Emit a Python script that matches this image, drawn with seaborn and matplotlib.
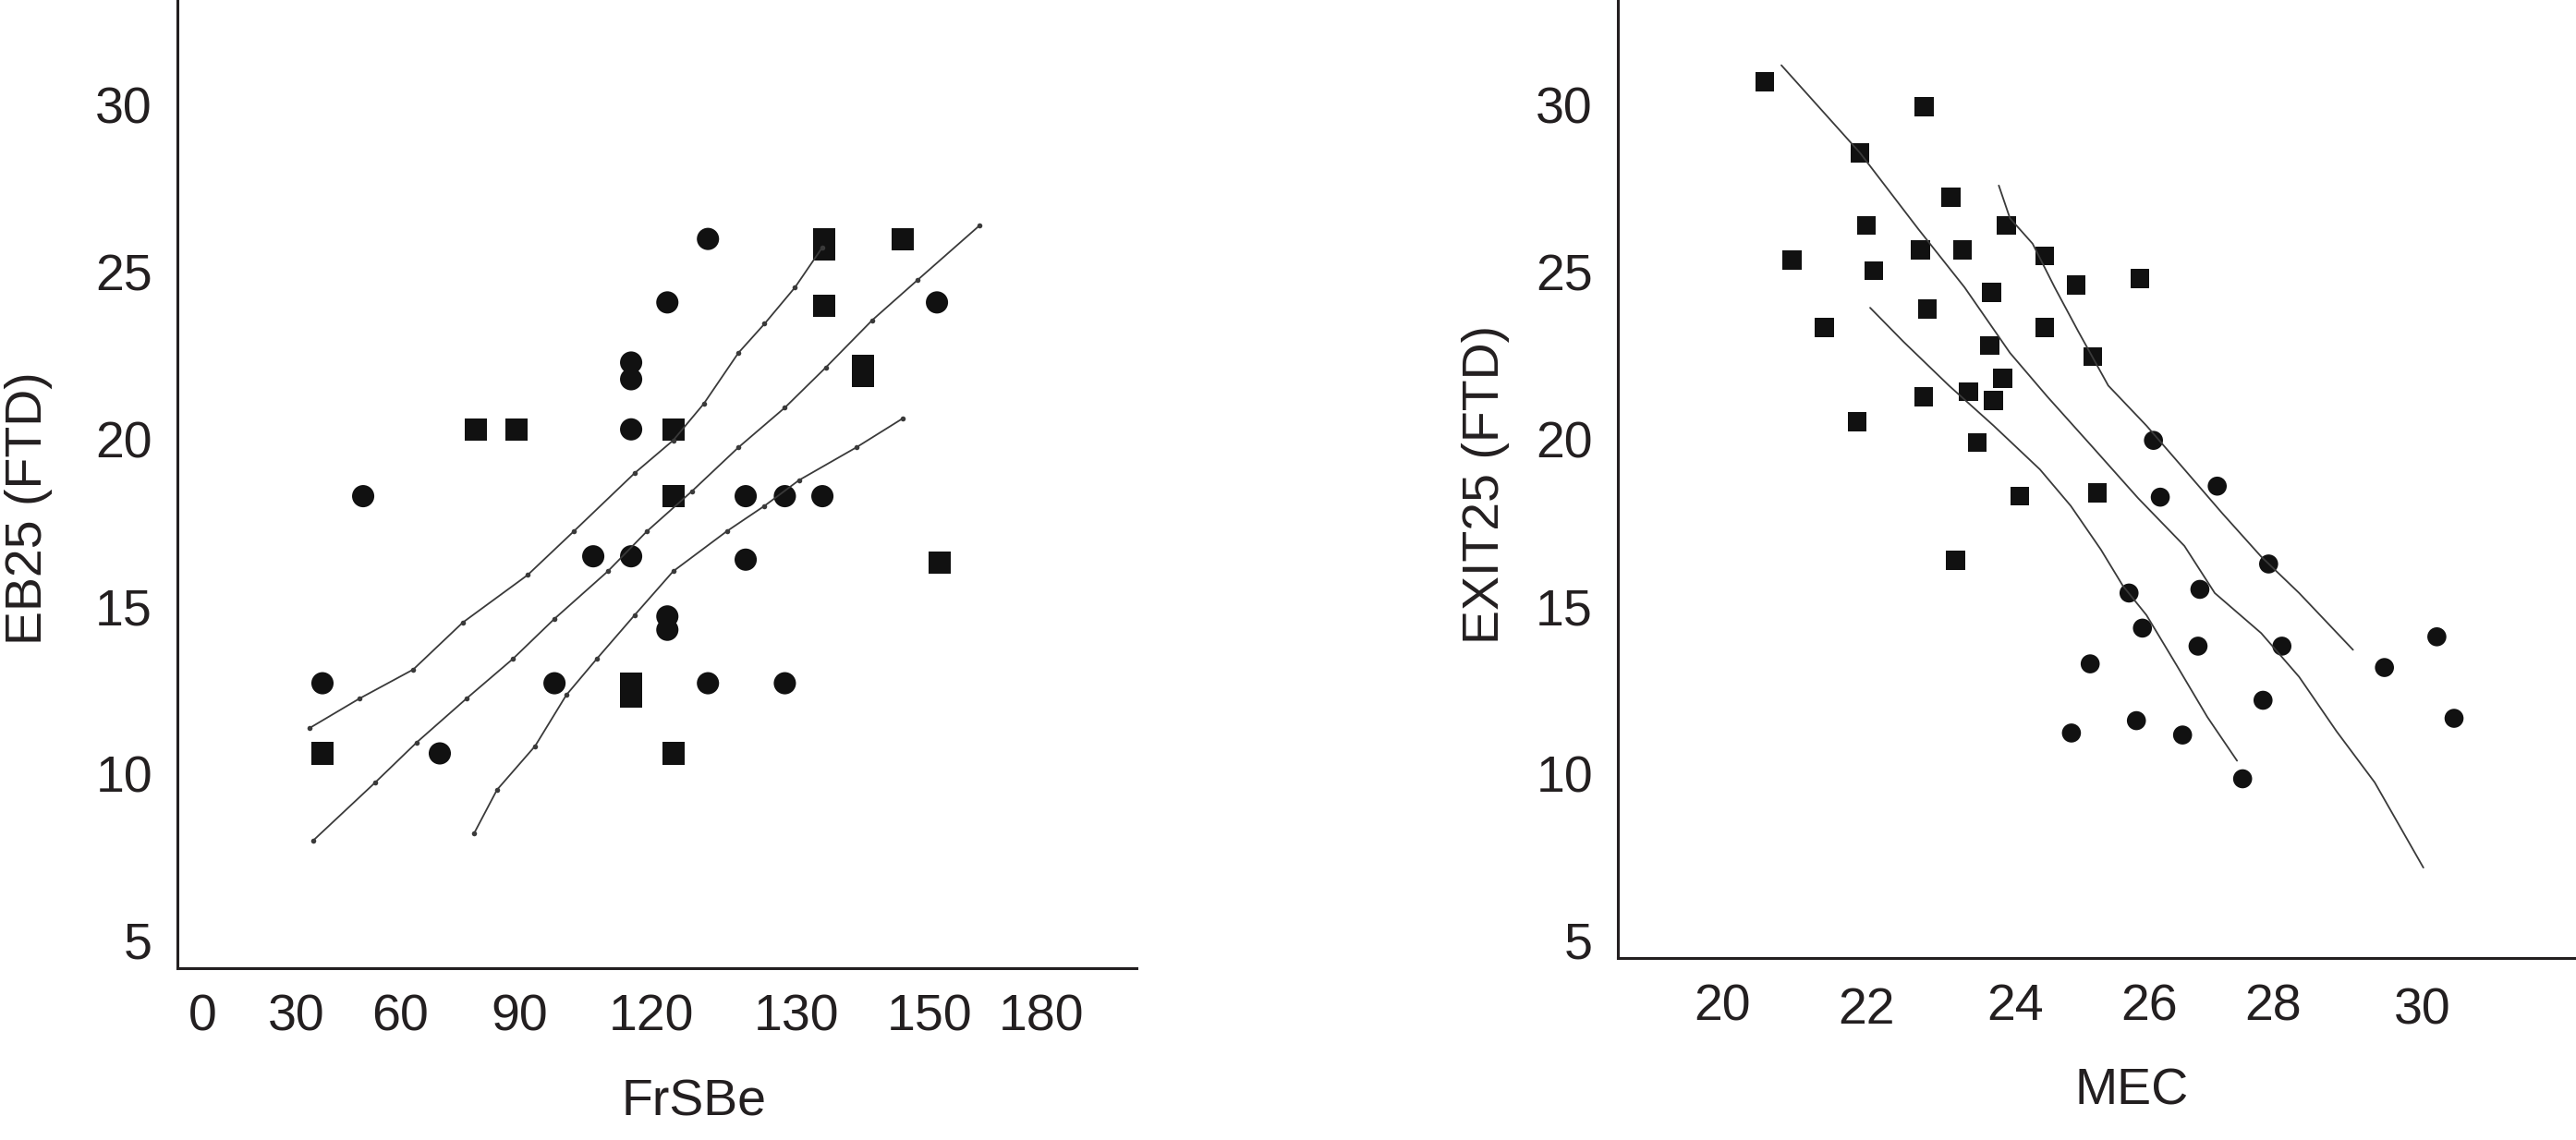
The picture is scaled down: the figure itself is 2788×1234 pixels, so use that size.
# ============================================================
# EB25 vs FrSBe  /  EXIT25 vs MEC  - two scatter panels with fit lines
# ============================================================

import numpy as np
import pandas as pd
import matplotlib
matplotlib.use("Agg")
import matplotlib.pyplot as plt
from matplotlib.transforms import ScaledTranslation
import seaborn as sns

# ============================================================
# Data - left panel (FrSBe vs EB25 (FTD))
# ============================================================

frsbe_circle_x = [37.5, 49.3, 70.0, 98.0, 106.8, 115.4, 115.4, 115.4, 115.4,
                  121.1, 121.1, 121.1, 123.9, 123.9, 126.5, 126.5, 129.2,
                  129.2, 133.9, 152.0]
frsbe_circle_y = [12.7, 18.3, 10.6, 12.7, 16.5, 16.5, 21.8, 22.3, 20.3,
                  24.1, 14.3, 14.7, 26.0, 12.7, 18.3, 16.4, 18.3,
                  12.7, 18.3, 24.1]

frsbe_square_x = [37.5, 79.1, 89.3, 115.4, 115.4, 121.5, 121.5, 121.5,
                  134.2, 134.2, 134.2, 140.0, 140.0, 146.0, 152.7]
frsbe_square_y = [10.6, 20.3, 20.3, 12.3, 12.7, 20.3, 18.3, 10.6,
                  25.7, 26.0, 24.0, 21.9, 22.2, 26.0, 16.3]

# fitted line and its two bands
frsbe_upper_x = [33.8, 48.2, 63.3, 75.8, 91.9, 102.4, 116.2, 121.5, 123.6,
                 126.0, 127.8, 129.9, 133.9]
frsbe_upper_y = [11.36, 12.24, 13.11, 14.52, 15.94, 17.25, 18.99, 19.97,
                 21.06, 22.59, 23.46, 24.55, 25.75]

frsbe_mid_x = [34.8, 52.8, 64.2, 76.7, 88.4, 98.0, 110.1, 119.0, 122.8,
               126.0, 129.2, 134.4, 141.4, 148.2, 163.4]
frsbe_mid_y = [7.99, 9.73, 10.93, 12.24, 13.43, 14.63, 16.05, 17.25, 18.45,
               19.76, 20.95, 22.15, 23.57, 24.77, 26.40]

frsbe_lower_x = [78.6, 84.4, 93.6, 100.7, 107.6, 116.2, 121.5, 125.2, 127.8,
                 130.4, 139.0, 146.0]
frsbe_lower_y = [8.20, 9.51, 10.82, 12.35, 13.43, 14.74, 16.05, 17.25, 18.01,
                 18.78, 19.76, 20.63]

frsbe_ticks = [0, 30, 60, 90, 120, 130, 150, 180]
eb25_ticks = [5, 10, 15, 20, 25, 30]

# ============================================================
# Data - right panel (MEC vs EXIT25 (FTD))
# ============================================================

mec_square_x = [20.59, 20.97, 21.42, 21.87, 21.91, 22.00, 22.10, 22.73, 22.78,
                22.82, 22.77, 23.14, 23.29, 23.37, 23.20, 23.49, 23.68, 23.66,
                23.71, 23.83, 23.88, 24.07, 24.44, 24.44, 24.91, 25.16, 25.23,
                25.86]
mec_square_y = [30.70, 25.36, 23.35, 20.52, 28.58, 26.40, 25.05, 25.68, 29.96,
                23.90, 21.28, 27.25, 25.68, 21.43, 16.38, 19.91, 24.40, 22.81,
                21.17, 21.83, 26.40, 18.30, 25.49, 23.35, 24.62, 22.48, 18.40,
                24.81]

mec_circle_x = [26.07, 26.18, 27.10, 27.93, 25.70, 25.90, 26.82, 26.79, 28.12,
                25.12, 24.84, 25.81, 26.54, 27.84, 27.51, 29.49, 30.19, 30.42]
mec_circle_y = [19.97, 18.27, 18.60, 16.27, 15.40, 14.35, 15.51, 13.81, 13.81,
                13.28, 11.21, 11.58, 11.15, 12.19, 9.84, 13.17, 14.09, 11.65]

mec_line_a_x = [20.82, 21.91, 22.70, 23.32, 23.93, 24.48, 25.16, 25.84, 26.57,
                27.06, 27.81, 28.35, 28.85, 29.36, 30.01]
mec_line_a_y = [31.20, 28.58, 26.29, 24.55, 22.59, 21.28, 19.76, 18.23, 16.81,
                15.40, 14.20, 12.89, 11.26, 9.73, 7.18]

mec_line_b_x = [23.78, 23.93, 24.26, 24.59, 24.94, 25.39, 25.96, 26.57, 27.18,
                27.81, 28.35, 29.07]
mec_line_b_y = [27.60, 26.62, 25.86, 24.55, 23.24, 21.61, 20.41, 19.10, 17.79,
                16.49, 15.40, 13.70]

mec_line_c_x = [22.05, 22.50, 23.11, 23.71, 24.37, 24.83, 25.28, 25.61, 25.96,
                26.45, 26.94, 27.42]
mec_line_c_y = [23.94, 22.92, 21.61, 20.41, 19.10, 18.01, 16.70, 15.61, 14.74,
                13.22, 11.69, 10.38]

mec_ticks = [20, 22, 24, 26, 28, 30]
exit25_ticks = [5, 10, 15, 20, 25, 30]

# ============================================================
# Layout (pixel positions in the 2788 x 1234 image)
# ============================================================

W, H = 2788, 1234
frsbe_tick_px = [219, 321, 433, 562, 705, 862, 1006, 1127]
mec_tick_px = [1864, 2020, 2181, 2326, 2460, 2622]

INK = "#231f20"


def piecewise(vals, pos):
    # the printed x axes are not evenly spaced: map tick values onto
    # their drawn positions, linear in between
    vals = np.asarray(vals, float)
    pos = np.asarray(pos, float)
    s_lo = (pos[1] - pos[0]) / (vals[1] - vals[0])
    s_hi = (pos[-1] - pos[-2]) / (vals[-1] - vals[-2])

    def fwd(v):
        v = np.asarray(v, float)
        out = np.interp(v, vals, pos)
        out = np.where(v < vals[0], pos[0] + (v - vals[0]) * s_lo, out)
        out = np.where(v > vals[-1], pos[-1] + (v - vals[-1]) * s_hi, out)
        return out

    def inv(p):
        p = np.asarray(p, float)
        out = np.interp(p, pos, vals)
        out = np.where(p < pos[0], vals[0] + (p - pos[0]) / s_lo, out)
        out = np.where(p > pos[-1], vals[-1] + (p - pos[-1]) / s_hi, out)
        return out

    return fwd, inv


sns.set_theme(style="white")
plt.rcParams["font.family"] = ["Liberation Sans", "DejaVu Sans"]

fig = plt.figure(figsize=(W / 100, H / 100), dpi=100)
fig.patch.set_facecolor("white")

# axes boxes: (left px, right px, bottom px)
ax1 = fig.add_axes([192 / W, 1 - 1048 / H, (1230 - 192) / W, 1048 / H])
ax2 = fig.add_axes([1751 / W, 1 - 1037 / H, (2788 - 1751) / W, 1037 / H])

PX_PER_UNIT = 36.16  # y scale, same for both panels

# ============================================================
# Left panel
# ============================================================

left_pts = pd.DataFrame({
    "x": frsbe_circle_x + frsbe_square_x,
    "y": frsbe_circle_y + frsbe_square_y,
    "shape": ["circle"] * len(frsbe_circle_x) + ["square"] * len(frsbe_square_x),
})

f1, i1 = piecewise(frsbe_ticks, frsbe_tick_px)
ax1.set_xscale("function", functions=(f1, i1))

for lx, ly in [(frsbe_upper_x, frsbe_upper_y),
               (frsbe_mid_x, frsbe_mid_y),
               (frsbe_lower_x, frsbe_lower_y)]:
    sns.lineplot(x=lx, y=ly, sort=False, estimator=None, ax=ax1,
                 color="#3a3a3a", linewidth=1.3, marker="o",
                 markersize=4, markeredgewidth=0)

sns.scatterplot(data=left_pts, x="x", y="y", style="shape",
                markers={"circle": "o", "square": "s"},
                color="#111111", s=300, linewidth=0, legend=False, ax=ax1)

ax1.set_xlim(float(i1(192)), float(i1(1230)))
ax1.set_ylim(5 - (1048 - 1018) / PX_PER_UNIT, 30 + 114 / PX_PER_UNIT)
ax1.set_xticks(frsbe_ticks)
ax1.set_xticklabels([str(t) for t in frsbe_ticks])
ax1.set_yticks(eb25_ticks)

ax1.set_xlabel("FrSBe", fontsize=40, color=INK, va="baseline")
ax1.xaxis.set_label_coords((751 - 192) / 1038, (1048 - 1207) / 1048)
ax1.set_ylabel("EB25 (FTD)", fontsize=40, color=INK, va="center")
ax1.yaxis.set_label_coords((31 - 192) / 1038, (1048 - 550) / 1048)

# ============================================================
# Right panel
# ============================================================

right_pts = pd.DataFrame({
    "x": mec_square_x + mec_circle_x,
    "y": mec_square_y + mec_circle_y,
    "shape": ["square"] * len(mec_square_x) + ["circle"] * len(mec_circle_x),
})

f2, i2 = piecewise(mec_ticks, mec_tick_px)
ax2.set_xscale("function", functions=(f2, i2))

for lx, ly in [(mec_line_a_x, mec_line_a_y),
               (mec_line_b_x, mec_line_b_y),
               (mec_line_c_x, mec_line_c_y)]:
    sns.lineplot(x=lx, y=ly, sort=False, estimator=None, ax=ax2,
                 color="#3a3a3a", linewidth=1.3)

sns.scatterplot(data=right_pts, x="x", y="y", style="shape",
                markers={"circle": "o", "square": "s"},
                color="#111111", s=220, linewidth=0, legend=False, ax=ax2)

ax2.set_xlim(float(i2(1751)), float(i2(2788)))
ax2.set_ylim(5 - (1037 - 1018) / PX_PER_UNIT, 30 + 114 / PX_PER_UNIT)
ax2.set_xticks(mec_ticks)
ax2.set_xticklabels([str(t) for t in mec_ticks])
ax2.set_yticks(exit25_ticks)

ax2.set_xlabel("MEC", fontsize=40, color=INK, va="baseline")
ax2.xaxis.set_label_coords((2307 - 1751) / 1037, (1037 - 1196) / 1037)
ax2.set_ylabel("EXIT25 (FTD)", fontsize=40, color=INK, va="center")
ax2.yaxis.set_label_coords((1608 - 1751) / 1037, (1037 - 524) / 1037)

# ============================================================
# Axis styling
# ============================================================

for ax in (ax1, ax2):
    ax.set_facecolor("white")
    ax.grid(False)
    for side in ("top", "right"):
        ax.spines[side].set_visible(False)
    for side in ("left", "bottom"):
        ax.spines[side].set_color(INK)
        ax.spines[side].set_linewidth(2.2)
    ax.tick_params(axis="both", length=0, pad=19.5, labelsize=40,
                   labelcolor=INK)
    ax.minorticks_off()

# 22 and 30 sit a little lower on the printed MEC axis
for idx in (1, 5):
    lbl = ax2.get_xticklabels()[idx]
    lbl.set_transform(lbl.get_transform()
                      + ScaledTranslation(0, -4 / 100, fig.dpi_scale_trans))

plt.savefig("out.png", dpi=100, facecolor="white")
